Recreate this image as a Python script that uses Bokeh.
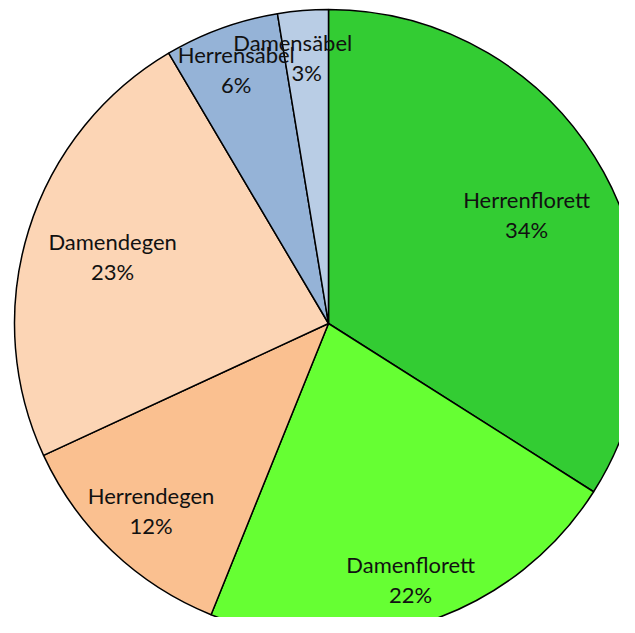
import math
from bokeh.plotting import figure
from bokeh.models import Range1d, ColumnDataSource
from bokeh.embed import file_html
from bokeh.resources import INLINE
from bokeh.core.properties import value

# ---- data ----
categories = ["Herrenflorett", "Damenflorett", "Herrendegen", "Damendegen", "Herrensäbel", "Damensäbel"]
shares = [34.0, 22.1, 12.0, 23.4, 5.9, 2.6]
colors = ["#33CC33", "#66FF33", "#FAC090", "#FCD5B5", "#95B3D7", "#B9CDE5"]

# ---- layout ----
label_radius = [0.72, 0.855, 0.82, 0.72, 0.86, 0.85]
name_dx = [0, 0, 0, 0, 0, -14]
R = 314
W, H = 619, 617
cx_px, cy_px = 328, 323  # pie centre in figure pixels (from top-left)

total = sum(shares)
starts, ends, lx, ly, nx, names, pcts = [], [], [], [], [], [], []
cum = 0.0
for i, s in enumerate(shares):
    a0 = math.pi / 2 - 2 * math.pi * cum / total
    cum += s
    a1 = math.pi / 2 - 2 * math.pi * cum / total
    starts.append(a1)
    ends.append(a0)
    mid = (a0 + a1) / 2
    x = R * label_radius[i] * math.cos(mid)
    y = R * label_radius[i] * math.sin(mid)
    lx.append(x)
    ly.append(y)
    nx.append(x + name_dx[i])
    names.append(categories[i])
    pcts.append(f"{round(100 * s / total)}%")

src = ColumnDataSource(dict(start=starts, end=ends, color=colors,
                            lx=lx, ly=ly, nx=nx, name=names, pct=pcts))

p = figure(width=W, height=H, output_backend="svg", toolbar_location=None,
           x_range=Range1d(-cx_px, W - cx_px), y_range=Range1d(-(H - cy_px), cy_px),
           min_border=0, outline_line_color=None)
p.axis.visible = False
p.grid.visible = False
p.background_fill_color = "white"
p.border_fill_color = "white"

p.wedge(x=0, y=0, radius=R, start_angle="start", end_angle="end",
        fill_color="color", line_color="black", line_width=1.5, source=src)

font = value("Lato")
p.text(x="nx", y="ly", text="name", source=src, text_font=font,
       text_font_size="22px", text_color="#111111", text_align="center",
       text_baseline="middle", y_offset=-15)
p.text(x="lx", y="ly", text="pct", source=src, text_font=font,
       text_font_size="22px", text_color="#111111", text_align="center",
       text_baseline="middle", y_offset=15)

open("out.html", "w").write(file_html(p, INLINE))
